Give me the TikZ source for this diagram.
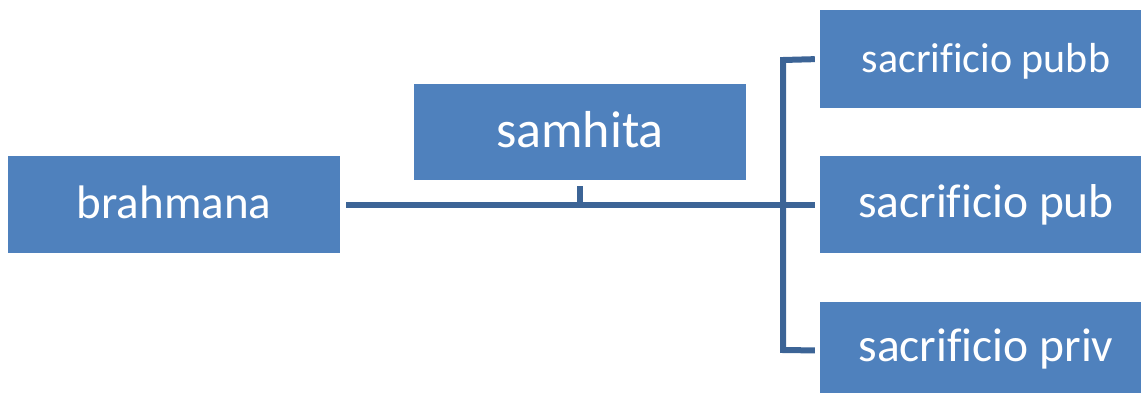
\documentclass[tikz,border=0pt]{standalone}
\usepackage{fontspec}
\setmainfont{Carlito}[Ligatures=NoCommon]
\definecolor{boxblue}{HTML}{4F81BD}
\definecolor{linkblue}{HTML}{3C6496}
\begin{document}
\begin{tikzpicture}[x=1pt,y=-1pt,
  box/.style={fill=boxblue, draw=none, inner sep=0pt, minimum height=97pt, text=white, text depth=0pt, text height=27pt},
  conn/.style={draw=linkblue, line width=6pt, line cap=butt, line join=miter}]
\useasboundingbox (0,0) rectangle (1141,392);
\clip (0,0) rectangle (1141,392);
\node[box, minimum width=332pt, font=\fontsize{47}{47}\selectfont] (brahmana) at (174,204.5) {brahmana};
\node[box, minimum width=332pt, minimum height=96pt, text height=30pt, font=\fontsize{52}{52}\selectfont] (samhita) at (580,132) {samhita};
\node[box, minimum width=332pt, minimum height=98pt, text height=27pt, font=\fontsize{42}{42}\selectfont] (pubb) at (986,59) {sacrificio pubb};
\node[box, minimum width=332pt, text height=25pt, font=\fontsize{47.5}{47.5}\selectfont] (pub) at (986,204.5) {sacrificio pub};
\node[box, minimum width=332pt, text height=22pt, font=\fontsize{47.5}{47.5}\selectfont] (priv) at (986,350.5) {sacrificio priv};
\coordinate (bt) at (783,60);
\coordinate (bb) at (783,350);
\draw[conn, shorten <=6pt, shorten >=5pt] (brahmana.east) -- (pub.west);
\draw[conn, shorten <=6pt] (samhita.south) -- (samhita.south |- pub.west);
\draw[conn, shorten <=5pt, shorten >=5pt] (pubb.west) -- (bt) -- (bb) -- (priv.west);
\end{tikzpicture}
\end{document}
